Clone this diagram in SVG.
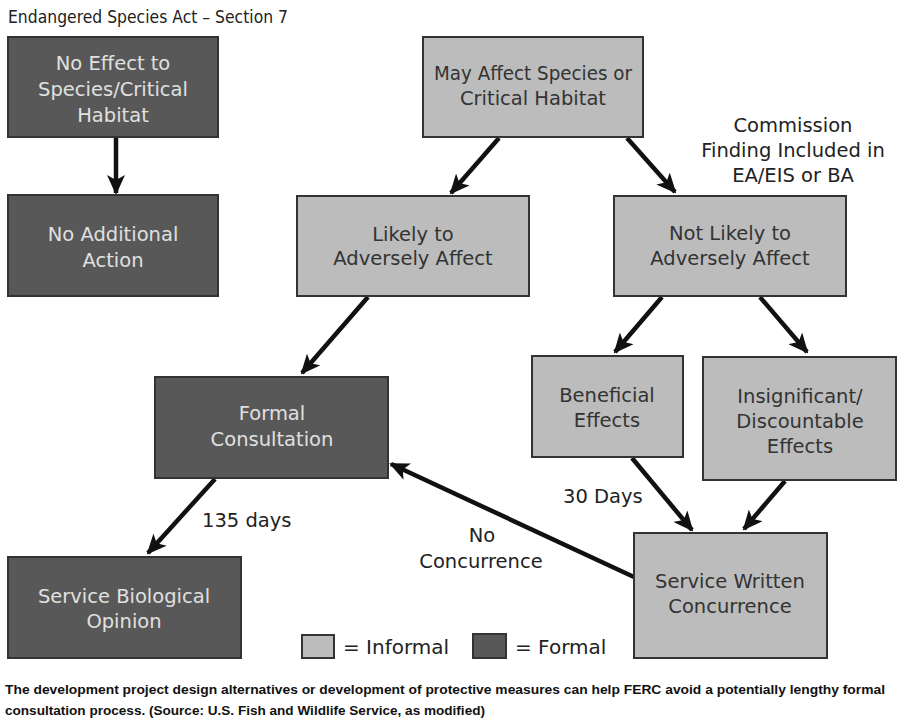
<svg xmlns="http://www.w3.org/2000/svg" width="899" height="728" viewBox="0 0 899 728">
<defs>
<style>
.inf{fill:#bcbcbc;stroke:#333;stroke-width:2}
.frm{fill:#585858;stroke:#333;stroke-width:2}
.t{font-family:"DejaVu Sans","Liberation Sans",sans-serif;font-size:19.5px;text-anchor:middle}
.td{fill:#333}
.tl{fill:#e0e0e0}
.lbl{font-family:"DejaVu Sans","Liberation Sans",sans-serif;font-size:19.5px;fill:#222}
.cap{font-family:"Liberation Sans",sans-serif;font-size:13px;font-weight:bold;fill:#111}
.c{stroke:#111;stroke-width:4.5;fill:none;marker-end:url(#ah)}
</style>
<marker id="ah" viewBox="0 0 20 18" refX="18" refY="9" markerWidth="20" markerHeight="18" markerUnits="userSpaceOnUse" orient="auto">
<path d="M0,0 L20,9 L0,18 L5,9 z" fill="#111"/>
</marker>
</defs>
<rect width="899" height="728" fill="#fff"/>
<text x="8" y="23" class="lbl" style="font-size:17px" textLength="280" lengthAdjust="spacingAndGlyphs">Endangered Species Act – Section 7</text>

<g id="connectors">
<line class="c" x1="116" y1="138" x2="116" y2="193"/>
<line class="c" x1="499" y1="138" x2="451" y2="193"/>
<line class="c" x1="627" y1="138" x2="675" y2="192"/>
<line class="c" x1="368" y1="297" x2="302" y2="373"/>
<line class="c" x1="662" y1="297" x2="615" y2="352"/>
<line class="c" x1="760" y1="297" x2="807" y2="352"/>
<line class="c" x1="632" y1="458" x2="692" y2="530"/>
<line class="c" x1="785" y1="481" x2="744" y2="529"/>
<line class="c" x1="634" y1="577" x2="391" y2="464"/>
<line class="c" x1="215" y1="479" x2="148" y2="553"/>
</g>

<g id="n-noeffect">
<rect class="frm" x="8" y="37" width="210" height="100"/>
<text class="t tl" x="113" y="70">No Effect to</text>
<text class="t tl" x="113" y="96">Species/Critical</text>
<text class="t tl" x="113" y="122">Habitat</text>
</g>
<g id="n-noaction">
<rect class="frm" x="8" y="195" width="210" height="101"/>
<text class="t tl" x="113" y="241">No Additional</text>
<text class="t tl" x="113" y="267">Action</text>
</g>
<g id="n-mayaffect">
<rect class="inf" x="423" y="37" width="220" height="100"/>
<text class="t td" x="533" y="80" textLength="198" lengthAdjust="spacingAndGlyphs">May Affect Species or</text>
<text class="t td" x="533" y="105">Critical Habitat</text>
</g>
<g id="n-likely">
<rect class="inf" x="297" y="196" width="232" height="100"/>
<text class="t td" x="413" y="241">Likely to</text>
<text class="t td" x="413" y="265">Adversely Affect</text>
</g>
<g id="n-notlikely">
<rect class="inf" x="614" y="196" width="232" height="100"/>
<text class="t td" x="730" y="240">Not Likely to</text>
<text class="t td" x="730" y="265">Adversely Affect</text>
</g>
<g id="n-commission">
<text class="t" x="793" y="132" fill="#222">Commission</text>
<text class="t" x="793" y="157" fill="#222">Finding Included in</text>
<text class="t" x="793" y="182" fill="#222">EA/EIS or BA</text>
</g>
<g id="n-formal">
<rect class="frm" x="155" y="377" width="233" height="101"/>
<text class="t tl" x="272" y="420">Formal</text>
<text class="t tl" x="272" y="446">Consultation</text>
</g>
<g id="n-beneficial">
<rect class="inf" x="532" y="356" width="151" height="101"/>
<text class="t td" x="607" y="402">Beneficial</text>
<text class="t td" x="607" y="427">Effects</text>
</g>
<g id="n-insig">
<rect class="inf" x="703" y="357" width="193" height="123"/>
<text class="t td" x="800" y="403">Insignificant/</text>
<text class="t td" x="800" y="428">Discountable</text>
<text class="t td" x="800" y="453">Effects</text>
</g>
<g id="n-swc">
<rect class="inf" x="634" y="533" width="193" height="125"/>
<text class="t td" x="730" y="588">Service Written</text>
<text class="t td" x="730" y="613">Concurrence</text>
</g>
<g id="n-opinion">
<rect class="frm" x="8" y="557" width="233" height="101"/>
<text class="t tl" x="124" y="603">Service Biological</text>
<text class="t tl" x="124" y="628">Opinion</text>
</g>

<g id="labels">
<text class="lbl" x="202" y="527">135 days</text>
<text class="lbl" x="482" y="542" text-anchor="middle">No</text>
<text class="lbl" x="481" y="568" text-anchor="middle">Concurrence</text>
<text class="lbl" x="563" y="503">30 Days</text>
</g>

<g id="legend">
<rect class="inf" x="302" y="635" width="32" height="23"/>
<text class="lbl" x="343" y="654" style="font-size:20px">= Informal</text>
<rect class="frm" x="473" y="634" width="33" height="24"/>
<text class="lbl" x="515" y="654" style="font-size:20px">= Formal</text>
</g>

<text class="cap" x="5" y="694" textLength="880" lengthAdjust="spacingAndGlyphs">The development project design alternatives or development of protective measures can help FERC avoid a potentially lengthy formal</text>
<text class="cap" x="5" y="715" textLength="480" lengthAdjust="spacingAndGlyphs">consultation process. (Source: U.S. Fish and Wildlife Service, as modified)</text>
</svg>
